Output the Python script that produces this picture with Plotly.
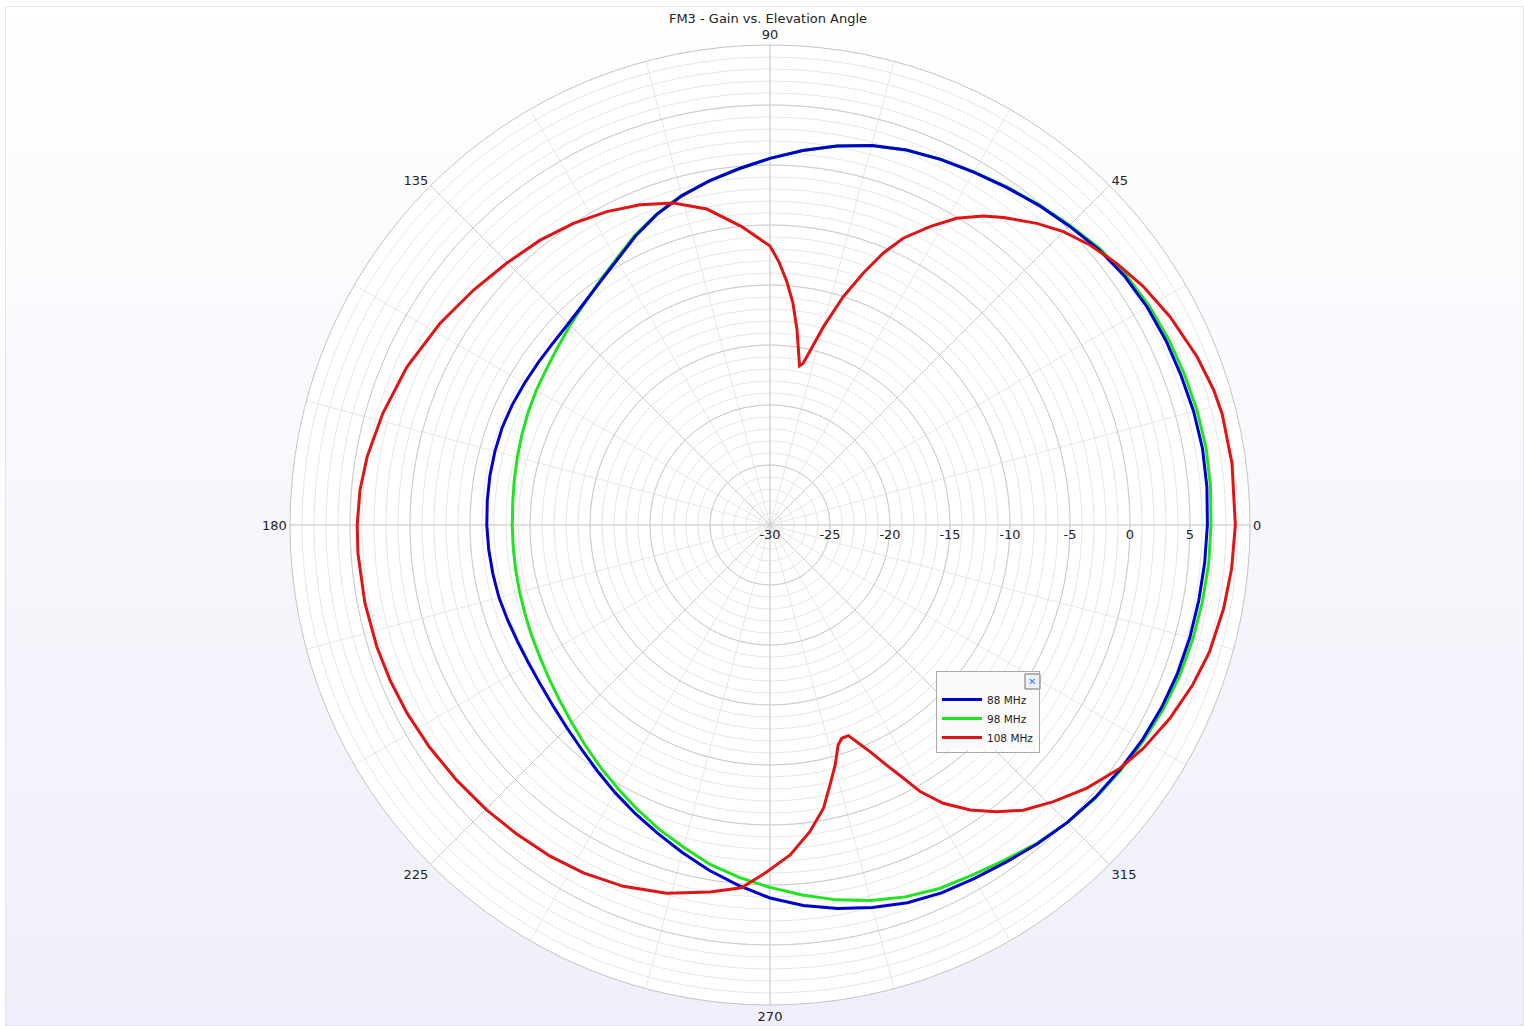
import base64
import plotly.graph_objects as go

# ---------------- data ----------------
angles_5 = list(range(0, 360, 5))

gain_88 = [6.45, 6.55, 6.6, 6.55, 6.45, 6.4, 6.3, 6.1, 5.75, 5.25, 4.8, 4.35,
           3.95, 3.62, 3.25, 2.75, 2.08, 1.32, 0.55, -0.2, -0.88, -1.6, -2.45, -3.45,
           -4.5, -5.3, -5.88, -6.25, -6.4, -6.42, -6.38, -6.3, -6.25, -6.27, -6.3, -6.35,
           -6.4, -6.47, -6.55, -6.62, -6.75, -6.83, -6.82, -6.7, -6.45, -6.08, -5.58, -4.95,
           -4.22, -3.45, -2.65, -1.75, -0.78, 0.15, 1.08, 1.82, 2.45, 3.0, 3.5, 3.82,
           4.02, 4.3, 4.68, 5.05, 5.35, 5.58, 5.82, 6.0, 6.14, 6.22, 6.28, 6.36]

gain_98 = [6.75, 6.85, 6.9, 6.85, 6.75, 6.65, 6.5, 6.25, 5.85, 5.32, 4.85, 4.4,
           3.98, 3.63, 3.25, 2.75, 2.08, 1.32, 0.55, -0.2, -0.88, -1.55, -2.4, -3.35,
           -4.4, -5.22, -5.92, -6.45, -6.92, -7.28, -7.52, -7.76, -8.0, -8.2, -8.36, -8.48,
           -8.52, -8.52, -8.48, -8.4, -8.28, -8.1, -7.88, -7.56, -7.16, -6.66, -6.04, -5.36,
           -4.65, -3.85, -3.0, -2.2, -1.28, -0.52, 0.2, 0.95, 1.72, 2.4, 2.98, 3.42,
           3.7, 4.1, 4.62, 5.05, 5.4, 5.66, 5.94, 6.2, 6.38, 6.5, 6.6, 6.7]

angles_108 = [0, 7.6, 13.8, 16.9, 21.5, 27.5, 32.6, 37, 41.2, 45, 48.5, 52.8, 55.4, 58.7,
              61.8, 65.1, 67.4, 69.7, 72.2, 74.9, 78.4, 79.5, 82.1, 84.1, 86, 88, 90, 95.5,
              101.3, 106.7, 112.1, 117.5, 123.1, 128.9, 135.2, 141.6, 148.6, 156.5, 163.9,
              170.4, 175.1, 180, 183.9, 190.9, 197.2, 202.2, 207.4, 213.1, 219.1, 225.2,
              230.6, 236.4, 241.8, 247.9, 254.3, 260.7, 265.5, 269.5, 273.5, 277.4, 280.7,
              283, 285.2, 287.2, 288.6, 290.4, 291.8, 293.8, 295.9, 297.8, 299.4, 301.9,
              305.1, 308.3, 311.6, 315.7, 320.3, 325.2, 329.1, 334.2, 339.3, 343.9, 349.6,
              354.6]
gain_108 = [8.78, 8.84, 8.8, 8.65, 8.25, 7.58, 6.91, 6.2, 5.43, 4.57, 3.56, 2.18, 1.29,
            -0.08, -1.79, -3.65, -5.47, -7.63, -10.02, -12.88, -16.24, -16.5, -13.6, -11.4,
            -9.7, -8.1, -6.75, -5.0, -3.15, -1.98, -1.2, -0.56, 0.0, 0.5, 0.95, 1.52, 2.23,
            3.0, 3.58, 4.05, 4.29, 4.4, 4.42, 4.38, 4.3, 4.2, 4.07, 3.88, 3.68, 3.49, 3.3,
            3.13, 2.9, 2.5, 1.88, 0.99, 0.33, -1.1, -2.45, -4.23, -5.98, -7.77, -9.28,
            -10.8, -11.25, -11.27, -10.55, -9.36, -7.76, -6.14, -4.5, -2.68, -0.98, 0.46,
            1.78, 3.0, 4.32, 5.52, 6.25, 7.02, 7.66, 8.12, 8.44, 8.64]

series_names = ["88 MHz", "98 MHz", "108 MHz"]
series_colors = ["#0000d0", "#1fe41f", "#e01414"]

radial_range = [-30, 10]
radial_major = [-30, -25, -20, -15, -10, -5, 0, 5]
radial_minor = list(range(-29, 10))
angular_major = [0, 45, 90, 135, 180, 225, 270, 315]
angular_minor = list(range(0, 360, 15))

title_text = "FM3 - Gain vs. Elevation Angle"

# ---------------- figure ----------------
W, H = 1524, 1026
cx, cy, R = 770, 525, 480

fig = go.Figure()

# darker major rings and spokes
ring_theta = list(range(0, 361, 2))
for rv in radial_major[1:]:
    fig.add_trace(go.Scatterpolar(r=[rv] * len(ring_theta), theta=ring_theta, mode="lines",
                                  line=dict(color="#cbcbcb", width=1), showlegend=False,
                                  hoverinfo="skip"))
for a in angular_major:
    fig.add_trace(go.Scatterpolar(r=radial_range, theta=[a, a], mode="lines",
                                  line=dict(color="#cbcbcb", width=1), showlegend=False,
                                  hoverinfo="skip"))


def closed(th, rr):
    return list(th) + [th[0] + 360], list(rr) + [rr[0]]


order = [1, 0, 2]  # draw green below blue, red on top
data = [(angles_5, gain_88), (angles_5, gain_98), (angles_108, gain_108)]
for i in order:
    th, rr = closed(*data[i])
    fig.add_trace(go.Scatterpolar(
        r=rr, theta=th, mode="lines", name=series_names[i], legendrank=i + 1,
        line=dict(color=series_colors[i], width=3),
    ))

fx0, fx1 = (cx - R) / W, (cx + R) / W
fy0, fy1 = 1 - (cy + R) / H, 1 - (cy - R) / H

tick_font = dict(family="DejaVu Sans", size=13, color="#222222")
legend_bg = "#fafafa"

# legend title: transparent spacer followed by the close glyph
legend_title = ('<span style="color:rgba(0,0,0,0)">' + "." * 28 + '</span>'
                '<span style="color:#3a7be0">✕</span>')

fig.update_layout(
    width=W, height=H,
    margin=dict(l=0, r=0, t=0, b=0),
    paper_bgcolor="white",
    font=dict(family="DejaVu Sans", color="#222222"),
    title=dict(text=title_text, x=768 / W, xanchor="center", y=1 - 18 / H, yanchor="middle",
               font=dict(family="DejaVu Sans", size=13, color="#222222")),
    polar=dict(
        domain=dict(x=[fx0, fx1], y=[fy0, fy1]),
        bgcolor="white",
        angularaxis=dict(
            direction="counterclockwise", rotation=0,
            tickmode="array", tickvals=angular_minor,
            ticktext=[str(a) if a % 45 == 0 else "" for a in angular_minor],
            ticks="", showline=True, linecolor="#c4c4c4", linewidth=1,
            gridcolor="#e7e7e7", gridwidth=1, tickfont=tick_font,
        ),
        radialaxis=dict(
            range=radial_range, angle=0, side="clockwise",
            tickmode="array", tickvals=[-30] + radial_minor,
            ticktext=["-30"] + [str(v) if v % 5 == 0 and v < 10 else "" for v in radial_minor],
            ticks="", showline=False, gridcolor="#e7e7e7", gridwidth=1,
            tickfont=tick_font, tickangle=0,
        ),
    ),
    legend=dict(
        x=936 / W, y=1 - 671 / H, xanchor="left", yanchor="top",
        bgcolor="rgba(0,0,0,0)", bordercolor="#a8a8a8", borderwidth=1,
        font=dict(family="DejaVu Sans", size=10.5, color="#222222"),
        title=dict(text=legend_title, font=dict(family="DejaVu Sans", size=10)),
        tracegroupgap=0, itemwidth=40,
    ),
    showlegend=True,
)

# gradient background with thin frame
svg = ('<svg xmlns="http://www.w3.org/2000/svg" width="1519" height="1020">'
       '<defs><linearGradient id="g" x1="0" y1="0" x2="0" y2="1">'
       '<stop offset="0" stop-color="#ffffff"/><stop offset="1" stop-color="#eeeffa"/>'
       '</linearGradient></defs>'
       '<rect x="0.5" y="0.5" width="1518" height="1019" fill="url(#g)" stroke="#e4e4ec"/></svg>')
src = "data:image/svg+xml;base64," + base64.b64encode(svg.encode()).decode()
fig.add_layout_image(dict(source=src, xref="paper", yref="paper", x=5 / W, y=1 - 6 / H,
                          sizex=1519 / W, sizey=1020 / H, sizing="stretch", layer="below",
                          xanchor="left", yanchor="top"))

# legend background fill and close-icon frame (drawn beneath the transparent legend)
fig.add_shape(type="rect", xref="paper", yref="paper", layer="above",
              x0=937 / W, x1=1039 / W, y0=1 - 750 / H, y1=1 - 672 / H,
              line=dict(width=0), fillcolor=legend_bg)
fig.add_shape(type="rect", xref="paper", yref="paper", layer="above",
              x0=1025 / W, x1=1040 / W, y0=1 - 689 / H, y1=1 - 674 / H,
              line=dict(color="#707070", width=1), fillcolor="#eef3fb")

fig.write_html("out.html", config={"displayModeBar": False},
               post_script="document.body.style.margin='0';document.body.style.overflow='hidden';")
